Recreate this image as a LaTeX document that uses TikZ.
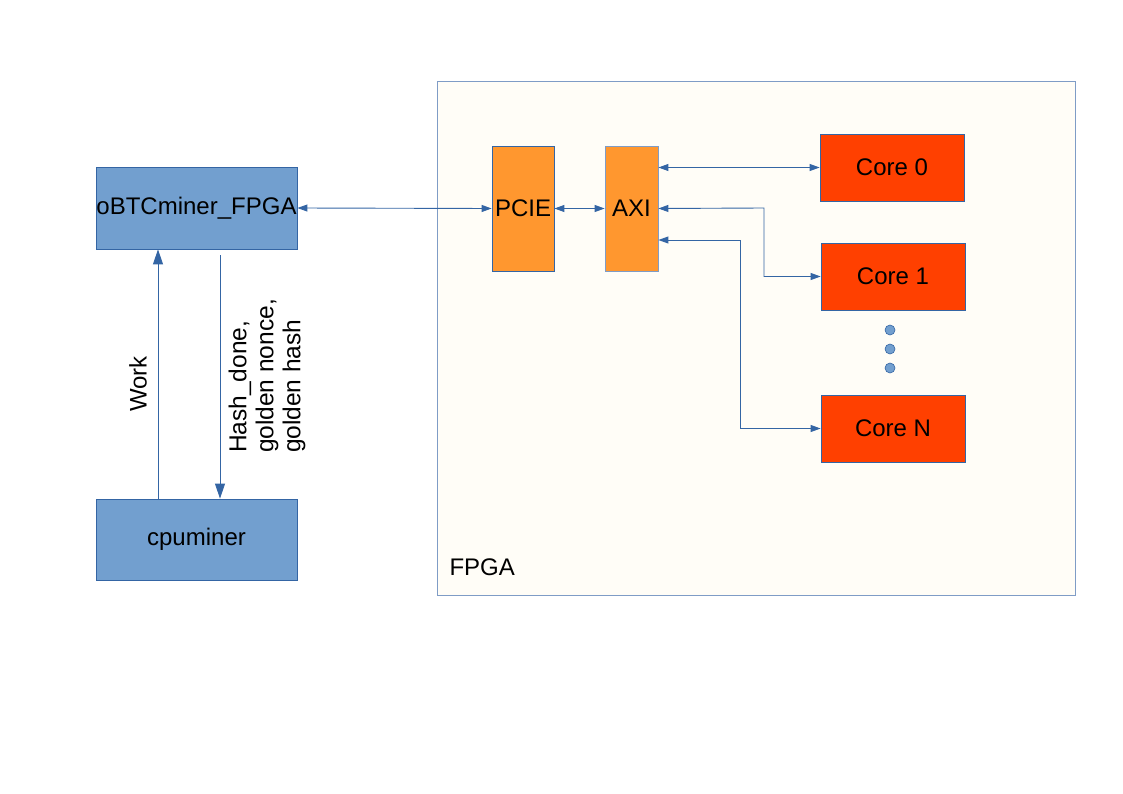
\documentclass[tikz,border=0pt]{standalone}
\usepackage{fontspec}
\setmainfont{Liberation Sans}
\usepackage{xcolor}
\usepackage{tikz}
\usetikzlibrary{arrows.meta,positioning,calc}

\definecolor{boxblue}{HTML}{729FCF}
\definecolor{lineblue}{HTML}{3465A4}
\definecolor{pcieorange}{HTML}{FF972F}
\definecolor{corered}{HTML}{FF4000}
\definecolor{fpgacream}{HTML}{FFFDF7}
\definecolor{fpgaedge}{HTML}{7F9CC6}

\tikzset{
  blk/.style={draw=lineblue,line width=0.8pt,inner sep=0pt,font=\fontsize{24}{27}\selectfont},
  hostbox/.style={blk,fill=boxblue,minimum width=201pt,minimum height=82pt},
  busbox/.style={blk,fill=pcieorange,minimum height=125pt},
  corebox/.style={blk,fill=corered,minimum width=144pt,minimum height=67pt},
  link/.style={draw=lineblue,line width=0.9pt},
  tip/.tip={Triangle[length=10pt,width=7pt]},
  bigtip/.tip={Triangle[length=15pt,width=10pt]},
}

\begin{document}
\begin{tikzpicture}[x=1pt,y=-1pt]
		\useasboundingbox (0,0) rectangle (1123,794);
		% FPGA area
		\node[draw=fpgaedge,fill=fpgacream,line width=0.8pt,minimum width=638pt,minimum height=514pt,inner sep=0pt] (fpga) at (756,338) {};
		\node[anchor=west,font=\fontsize{24}{27}\selectfont] (fpgalabel) at (446,567) {FPGA};
		% host side
		\node[hostbox] (obtc) at (196.5,208) {oBTCminer\_FPGA};
		\node[hostbox,minimum height=81pt] (cpu) at (196.5,539.5) {cpuminer};
		% bus blocks
		\node[busbox,minimum width=62pt] (pcie) at (523,208.5) {PCIE};
		\node[busbox,minimum width=53pt,draw=fpgaedge] (axi) at (631.5,208.5) {AXI};
		% cores
		\node[corebox] (core0) at (892,167.5) {Core 0};
		\node[corebox] (core1) at (893,276.5) {Core 1};
		\node[corebox] (coreN) at (893,428.5) {Core N};
		\foreach \y/\n in {330/a,349/b,368/c}
			\node[circle,draw=lineblue,fill=boxblue,line width=0.6pt,minimum size=10pt,inner sep=0pt] (dot\n) at (890,\y) {};
		% connectors
		\draw[link,tip-tip] (axi.east |- core0.west) -- (core0.west);
		\draw[link,tip-tip] (obtc.east) -- (pcie.west);
		\draw[link,tip-tip] (pcie.east) -- (axi.west);
		\draw[link,tip-tip] (axi.east) -- (764,208) |- (core1.west);
		\draw[link,tip-tip] ($(axi.east)+(0,31.5)$) -- (740,240) |- (coreN.west);
		\draw[link,-bigtip] (cpu.north -| 158,0) -- (obtc.south -| 158,0);
		\draw[link,-bigtip] (220,255) -- (cpu.north -| 220,0);
		% arrow labels
		\node[rotate=90,font=\fontsize{24}{27}\selectfont] (work) at (138,384) {Work};
		\node[rotate=90,align=left,font=\fontsize{24.5}{27}\selectfont] (hash) at (267,376) {Hash\_done,\\golden nonce,\\golden hash};
	\end{tikzpicture}
\end{document}
